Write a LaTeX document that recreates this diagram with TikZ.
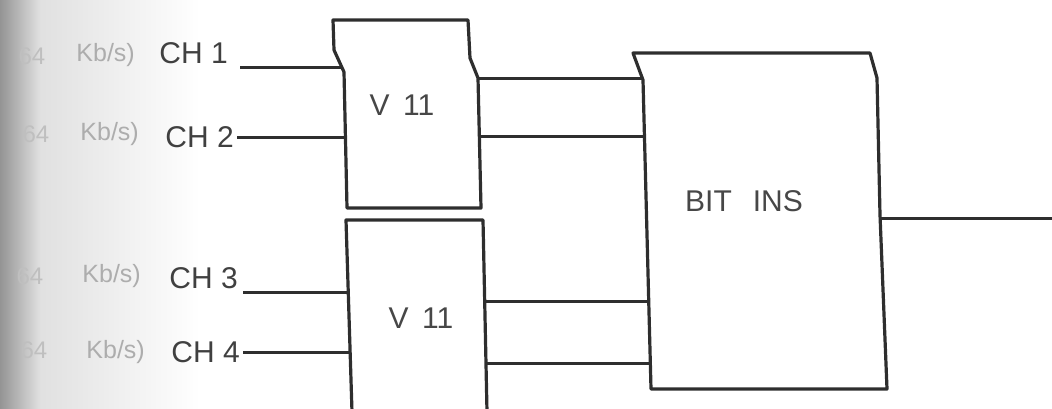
\documentclass[tikz,border=0pt]{standalone}
\usepackage{fontspec}
\setmainfont{Liberation Sans}
\begin{document}
\begin{tikzpicture}[x=1pt,y=-1pt,
  wire/.style={draw=black!82, line width=3pt},
  boxline/.style={draw=black!82, line width=3.2pt, line join=round},
  lab/.style={text=black!75, font=\fontsize{30}{34}\selectfont, inner sep=0pt},
  faint/.style={text=black!32, font=\fontsize{25}{28}\selectfont, inner sep=0pt},
  fainter/.style={text=black!25, font=\fontsize{24}{26}\selectfont, inner sep=0pt},
  boxlab/.style={text=black!72, font=\fontsize{30}{34}\selectfont, inner sep=0pt}]
\useasboundingbox (0,0) rectangle (1052,408);
\shade[left color=black!42, right color=black!12] (0,0) rectangle (40,408);
\shade[left color=black!12, right color=white] (40,0) rectangle (200,408);

% upper V11 box
\draw[boxline] (333,20) -- (468,20) -- (470,58) -- (478,78) -- (481,208)
  -- (347,208) -- (344,72) -- (334,50) -- cycle;
\node[boxlab] (v1) at (402,105) {V\hspace{0.45em}11};
% lower V11 box
\draw[boxline] (352,412) -- (346,220) -- (483,220) -- (487,412);
\node[boxlab] (v2) at (421,318) {V\hspace{0.45em}11};
% BIT INS box
\draw[boxline] (633,53) -- (870,53) -- (877,78) -- (880,215) -- (887,389)
  -- (651,389) -- (643,80) -- cycle;
\node[boxlab] (bi) at (744,201) {BIT\hspace{0.7em}INS};

% labels
\node[lab, anchor=east] (ch1) at (228,53) {CH 1};
\node[lab, anchor=east] (ch2) at (234,137) {CH 2};
\node[lab, anchor=east] (ch3) at (238,278) {CH 3};
\node[lab, anchor=east] (ch4) at (240,352) {CH 4};
\node[faint, anchor=east] (k1) at (135,55) {Kb/s)};
\node[faint, anchor=east] (k2) at (139,134) {Kb/s)};
\node[faint, anchor=east] (k3) at (141,276) {Kb/s)};
\node[faint, anchor=east] (k4) at (145,352) {Kb/s)};
\node[fainter] (n1) at (32,56) {64};
\node[fainter] (n2) at (36,134) {64};
\node[fainter] (n3) at (30,276) {64};
\node[fainter] (n4) at (34,350) {64};

% connector end points
\coordinate (i1) at (240,67);  \coordinate (v1i1) at (341,67);
\coordinate (i2) at (237,137); \coordinate (v1i2) at (345,137);
\coordinate (i3) at (243,292); \coordinate (v2i1) at (349,292);
\coordinate (i4) at (243,352); \coordinate (v2i2) at (351,352);
\coordinate (v1o1) at (478,78);  \coordinate (bi1) at (643,78);
\coordinate (v1o2) at (481,136); \coordinate (bi2) at (645,136);
\coordinate (v2o1) at (484,301); \coordinate (bi3) at (648,301);
\coordinate (v2o2) at (486,363); \coordinate (bi4) at (650,363);
\coordinate (bo) at (879,218);   \coordinate (out) at (1052,218);

\draw[wire] (i1) -- (v1i1);
\draw[wire] (i2) -- (v1i2);
\draw[wire] (i3) -- (v2i1);
\draw[wire] (i4) -- (v2i2);
\draw[wire] (v1o1) -- (bi1);
\draw[wire] (v1o2) -- (bi2);
\draw[wire] (v2o1) -- (bi3);
\draw[wire] (v2o2) -- (bi4);
\draw[wire] (bo) -- (out);
\end{tikzpicture}
\end{document}
